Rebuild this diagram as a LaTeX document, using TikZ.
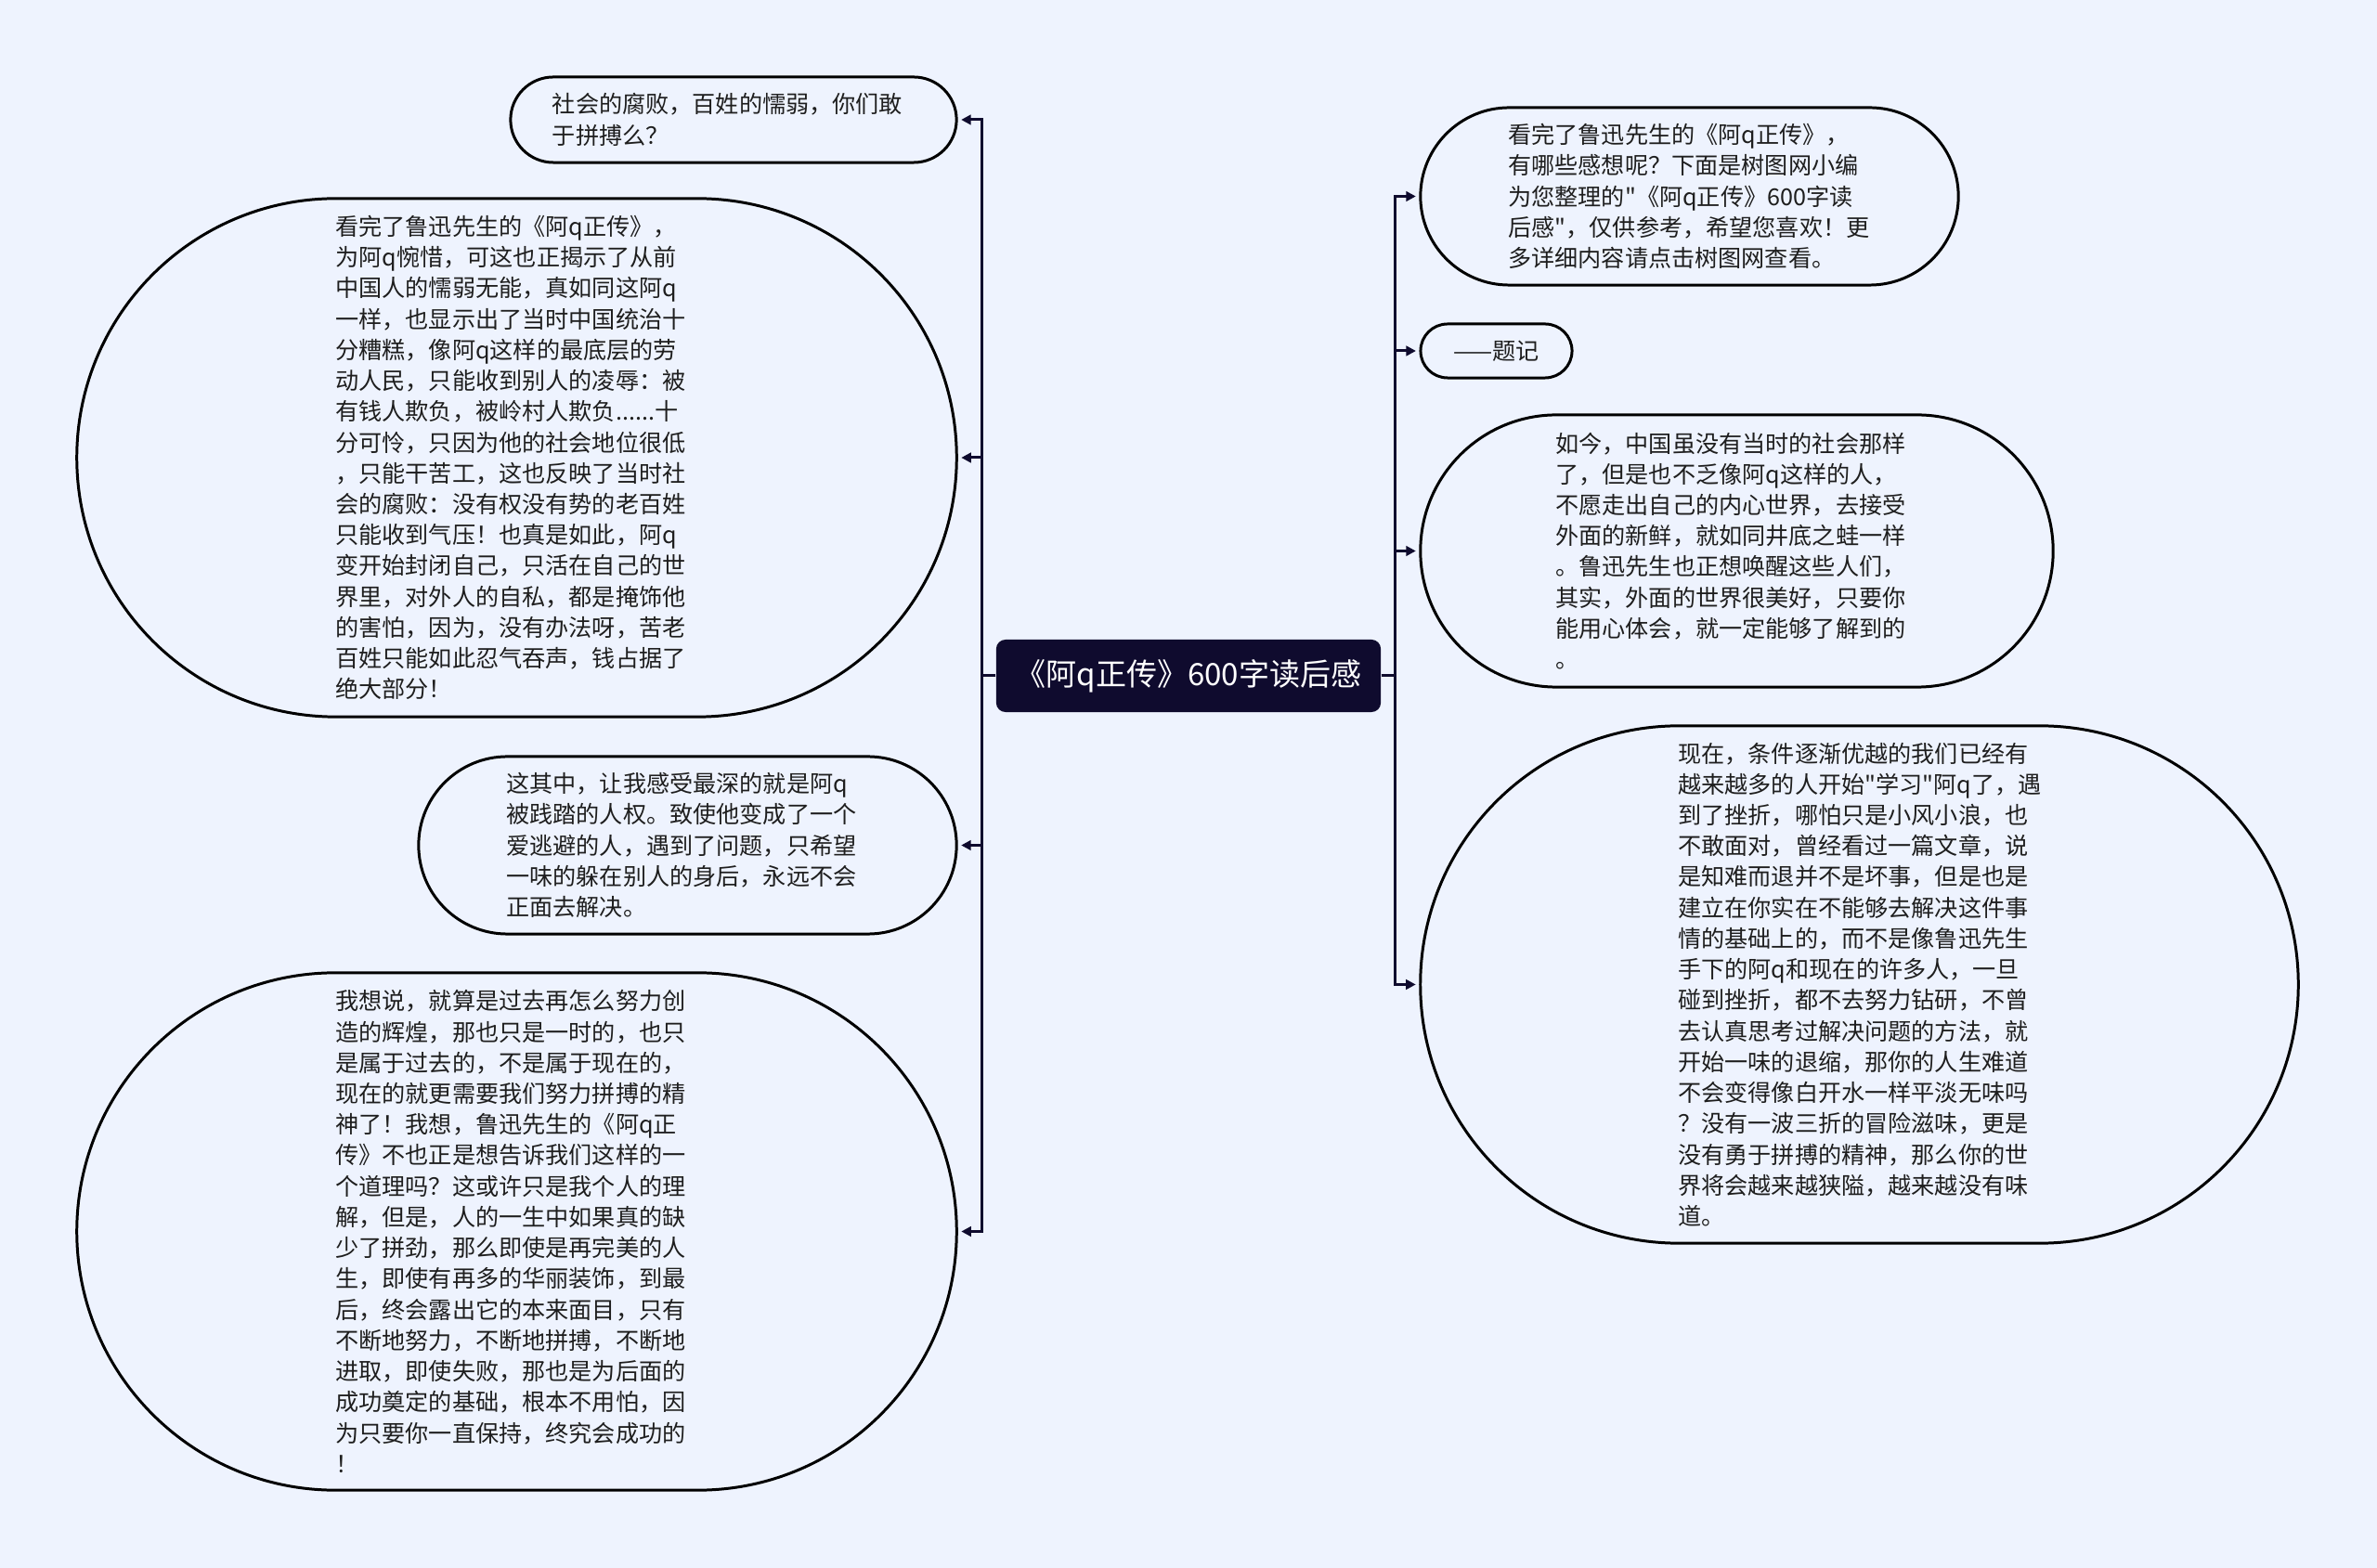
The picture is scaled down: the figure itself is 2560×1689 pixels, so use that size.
\documentclass[tikz,border=0pt]{standalone}
\usepackage{fontspec}
\setmainfont{Noto Sans CJK SC}[Ligatures=TeXOff]
\usetikzlibrary{shapes.misc,arrows.meta}

\definecolor{bgblue}{RGB}{238,243,254}
\definecolor{navy}{RGB}{15,11,46}
\definecolor{ink}{RGB}{30,30,30}

\tikzstyle{topic} = [rectangle, rounded corners=0.1cm, fill=navy, text=white, minimum width=4.14cm, minimum height=0.78cm, font=\fontsize{9.4pt}{11pt}\selectfont]
\tikzstyle{bubble} = [rounded rectangle, draw=black, line width=0.85pt, text=ink, inner sep=0pt, font=\fontsize{7.15pt}{9.45pt}\selectfont]
\tikzstyle{para} = [bubble, text width=3.9cm, align=left]
\tikzstyle{arrow} = [line width=0.85pt, draw=navy, -{Triangle[length=3pt,width=3pt]}, shorten >=1pt]

\begin{document}
\begin{tikzpicture}[x=0.01cm, y=-0.01cm]
	\fill [bgblue] (0,0) rectangle (2560,1689);
	\useasboundingbox (0,0) rectangle (2560,1689);
	% Place nodes
	\node [topic] (root) at (1280,728) {《阿q正传》600字读后感};
	\node [para, minimum width=4.8cm, minimum height=0.92cm] (fubai) at (790,129) {社会的腐败，百姓的懦弱，你们敢\\于拼搏么？};
	\node [para, minimum width=9.47cm, minimum height=5.58cm] (wanxi) at (556.5,493) {看完了鲁迅先生的《阿q正传》，\\为阿q惋惜，可这也正揭示了从前\\中国人的懦弱无能，真如同这阿q\\一样，也显示出了当时中国统治十\\分糟糕，像阿q这样的最底层的劳\\动人民，只能收到别人的凌辱：被\\有钱人欺负，被岭村人欺负......十\\分可怜，只因为他的社会地位很低\\，只能干苦工，这也反映了当时社\\会的腐败：没有权没有势的老百姓\\只能收到气压！也真是如此，阿q\\变开始封闭自己，只活在自己的世\\界里，对外人的自私，都是掩饰他\\的害怕，因为，没有办法呀，苦老\\百姓只能如此忍气吞声，钱占据了\\绝大部分！};
	\node [para, minimum width=5.79cm, minimum height=1.91cm] (renquan) at (740.5,910.5) {这其中，让我感受最深的就是阿q\\被践踏的人权。致使他变成了一个\\爱逃避的人，遇到了问题，只希望\\一味的躲在别人的身后，永远不会\\正面去解决。};
	\node [para, minimum width=9.47cm, minimum height=5.57cm] (pinbo) at (556.5,1326.5) {我想说，就算是过去再怎么努力创\\造的辉煌，那也只是一时的，也只\\是属于过去的，不是属于现在的，\\现在的就更需要我们努力拼搏的精\\神了！我想，鲁迅先生的《阿q正\\传》不也正是想告诉我们这样的一\\个道理吗？这或许只是我个人的理\\解，但是，人的一生中如果真的缺\\少了拼劲，那么即使是再完美的人\\生，即使有再多的华丽装饰，到最\\后，终会露出它的本来面目，只有\\不断地努力，不断地拼搏，不断地\\进取，即使失败，那也是为后面的\\成功奠定的基础，根本不用怕，因\\为只要你一直保持，终究会成功的\\！};
	\node [para, minimum width=5.79cm, minimum height=1.91cm] (intro) at (1819.5,211.5) {看完了鲁迅先生的《阿q正传》，\\有哪些感想呢？下面是树图网小编\\为您整理的"《阿q正传》600字读\\后感"，仅供参考，希望您喜欢！更\\多详细内容请点击树图网查看。};
	\node [bubble, minimum width=1.63cm, minimum height=0.58cm] (tiji) at (1611.5,378) {——题记};
	\node [para, minimum width=6.81cm, minimum height=2.93cm] (rujin) at (1870.5,593.5) {如今，中国虽没有当时的社会那样\\了，但是也不乏像阿q这样的人，\\不愿走出自己的内心世界，去接受\\外面的新鲜，就如同井底之蛙一样\\。鲁迅先生也正想唤醒这些人们，\\其实，外面的世界很美好，只要你\\能用心体会，就一定能够了解到的\\。};
	\node [para, minimum width=9.45cm, minimum height=5.57cm] (xianzai) at (2002.5,1060.5) {现在，条件逐渐优越的我们已经有\\越来越多的人开始"学习"阿q了，遇\\到了挫折，哪怕只是小风小浪，也\\不敢面对，曾经看过一篇文章，说\\是知难而退并不是坏事，但是也是\\建立在你实在不能够去解决这件事\\情的基础上的，而不是像鲁迅先生\\手下的阿q和现在的许多人，一旦\\碰到挫折，都不去努力钻研，不曾\\去认真思考过解决问题的方法，就\\开始一味的退缩，那你的人生难道\\不会变得像白开水一样平淡无味吗\\？没有一波三折的冒险滋味，更是\\没有勇于拼搏的精神，那么你的世\\界将会越来越狭隘，越来越没有味\\道。};
	% Draw edges
	\draw [arrow] (root.west) -- ++(-15,0) |- (fubai.east);
	\draw [arrow] (root.west) -- ++(-15,0) |- (wanxi.east);
	\draw [arrow] (root.west) -- ++(-15,0) |- (renquan.east);
	\draw [arrow] (root.west) -- ++(-15,0) |- (pinbo.east);
	\draw [arrow] (root.east) -- ++(15,0) |- (intro.west);
	\draw [arrow] (root.east) -- ++(15,0) |- (tiji.west);
	\draw [arrow] (root.east) -- ++(15,0) |- (rujin.west);
	\draw [arrow] (root.east) -- ++(15,0) |- (xianzai.west);
\end{tikzpicture}
\end{document}
